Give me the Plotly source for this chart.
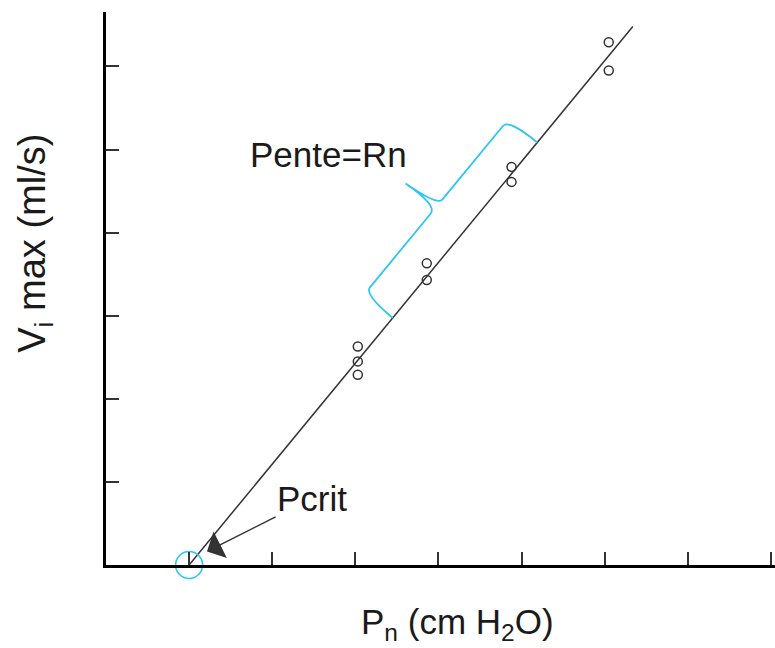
import math
import plotly.graph_objects as go

# Measured peak inspiratory flow vs nasal pressure (axis units = tick steps)
pn_values = [3.03, 3.03, 3.03, 3.86, 3.86, 4.88, 4.88, 6.05, 6.05]
vimax_values = [2.63, 2.45, 2.29, 3.63, 3.43, 4.79, 4.61, 6.29, 5.95]

# Regression line endpoints (starts at Pcrit on the x axis)
fit_x = [1.0, 6.34]
fit_y = [0.0, 6.48]
pcrit_x = [1.0]
pcrit_y = [0.0]

x_ticks = [1, 2, 3, 4, 5, 6, 7, 8]
y_ticks = [1, 2, 3, 4, 5, 6]

FONT = "Liberation Sans, Arial, sans-serif"
TEXT = "#1a1a1a"
CYAN = "#2cc6f2"
INK = "#333333"

fig = go.Figure()

fig.add_trace(go.Scatter(x=fit_x, y=fit_y, mode="lines",
                         line=dict(color=INK, width=1.5), hoverinfo="skip"))
fig.add_trace(go.Scatter(x=pn_values, y=vimax_values, mode="markers",
                         marker=dict(symbol="circle-open", size=9,
                                     color=INK, line=dict(width=1.5))))
fig.add_trace(go.Scatter(x=pcrit_x, y=pcrit_y, mode="markers", cliponaxis=False,
                         marker=dict(symbol="circle-open", size=27,
                                     color=CYAN, line=dict(width=1.6))))

# Curly brace marking the slope section of the regression line
x_a, x_b = 3.45, 5.19
slope = (fit_y[1] - fit_y[0]) / (fit_x[1] - fit_x[0])
y_a = fit_y[0] + slope * (x_a - fit_x[0])
y_b = fit_y[0] + slope * (x_b - fit_x[0])
L = math.hypot(x_b - x_a, y_b - y_a)
ux, uy = (x_b - x_a) / L, (y_b - y_a) / L
nx, ny = -uy, ux  # normal pointing to the upper-left
d, tip, r = 0.445, 0.91, 0.11
m = L * 0.5


def pt(s, p):
    return f"{x_a + s * ux + p * nx:.4f},{y_a + s * uy + p * ny:.4f}"


brace = (f"M {pt(0, 0)} Q {pt(0, d)} {pt(r, d)} L {pt(m - r, d)} "
         f"Q {pt(m + 0.02, d)} {pt(m - 0.02, tip)} "
         f"M {pt(m - 0.02, tip)} Q {pt(m + 0.02, d)} {pt(m + r, d)} "
         f"L {pt(L - r, d)} Q {pt(L, d)} {pt(L, 0)}")
fig.add_shape(type="path", path=brace, xref="x", yref="y",
              line=dict(color=CYAN, width=1.8))

fig.add_annotation(x=2.68, y=4.94, xref="x", yref="y", text="Pente=Rn",
                   showarrow=False, font=dict(family=FONT, size=35, color=TEXT))

fig.add_annotation(x=1.215, y=0.163, xref="x", yref="y",
                   ax=2.48, ay=0.80, axref="x", ayref="y",
                   text="Pcrit", showarrow=True, arrowhead=1, arrowsize=3.3,
                   arrowwidth=1.5, arrowcolor=INK,
                   font=dict(family=FONT, size=35, color=TEXT))

fig.add_annotation(x=0.525, y=-0.1075, xref="paper", yref="paper",
                   text="P<sub>n</sub> (cm H<sub>2</sub>O)", showarrow=False,
                   yanchor="middle", font=dict(family=FONT, size=35, color=TEXT))
fig.add_annotation(x=-0.106, y=0.581, xref="paper", yref="paper",
                   text="V<sub>i</sub> max (ml/s)", showarrow=False, textangle=-90,
                   xanchor="center", yanchor="middle",
                   font=dict(family=FONT, size=38, color=TEXT))

axis_common = dict(showline=True, linecolor="black", linewidth=3,
                   ticks="inside", ticklen=13, tickwidth=1.5, tickcolor=INK,
                   showticklabels=False, showgrid=False, zeroline=False,
                   fixedrange=True)

fig.update_xaxes(range=[0, 669 / 83.1], tickvals=x_ticks, **axis_common)
fig.update_yaxes(range=[0, 553 / 83.1], tickvals=y_ticks, **axis_common)

fig.update_layout(width=775, height=648, showlegend=False,
                  margin=dict(l=106, r=0, t=12, b=83),
                  paper_bgcolor="white", plot_bgcolor="white")

fig.write_html("out.html")
